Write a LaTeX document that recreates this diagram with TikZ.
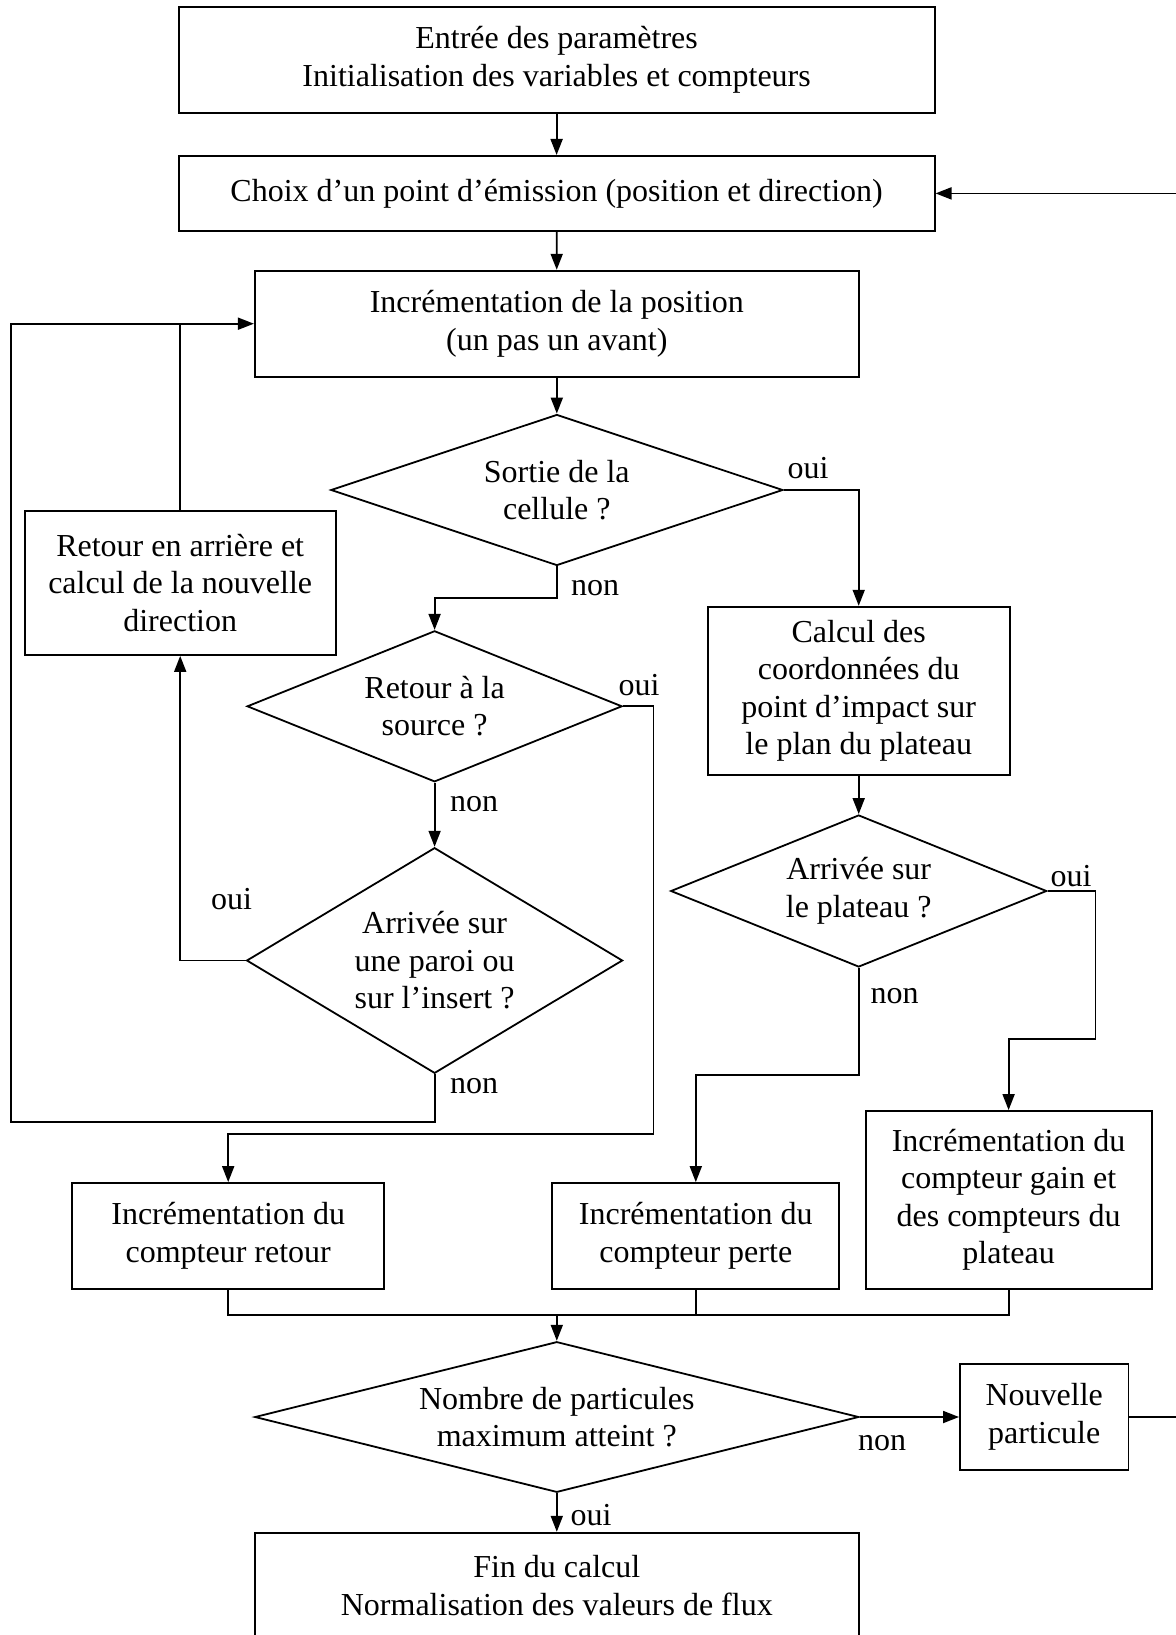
\documentclass[tikz,border=0pt]{standalone}
\usepackage{fontspec}
\setmainfont{Liberation Serif}
\usetikzlibrary{shapes.geometric,arrows.meta}
\begin{document}
\begin{tikzpicture}[x=1pt,y=-1pt,
  every node/.style={font=\fontsize{32}{37.5}\selectfont, align=center, inner sep=0pt},
  box/.style={draw, line width=1.8pt, rectangle},
  dec/.style={draw, line width=1.8pt, diamond},
  lab/.style={anchor=center},
  conn/.style={line width=1.8pt},
  arr/.style={line width=1.8pt, -{Triangle[length=16pt,width=12pt]}}]
\useasboundingbox (0,0) rectangle (1175,1635);
% boxes
\node[box, minimum width=756pt, minimum height=106pt] (b1) at (556.6,59.7)
  {Entrée des paramètres\\Initialisation des variables et compteurs};
\node[box, minimum width=756pt, minimum height=75pt] (b2) at (556.6,193.4)
  {Choix d’un point d’émission (position et direction)};
\node[box, minimum width=604pt, minimum height=106pt] (b3) at (556.8,323.7)
  {Incrémentation de la position\\(un pas un avant)};
\node[dec, aspect=2.99, minimum width=452pt, minimum height=151pt] (d1) at (556.8,490)
  {Sortie de la\\cellule ?};
\node[box, minimum width=311pt, minimum height=144pt] (rb) at (180.2,583)
  {Retour en arrière et\\calcul de la nouvelle\\direction};
\node[box, minimum width=302pt, minimum height=168.6pt] (calc) at (858.7,691)
  {Calcul des\\coordonnées du\\point d’impact sur\\le plan du plateau};
\node[dec, aspect=2.48, minimum width=375pt, minimum height=151pt] (d2) at (434.6,706.3)
  {Retour à la\\source ?};
\node[dec, aspect=1.67, minimum width=376pt, minimum height=225.6pt] (d3) at (434.6,960.5)
  {Arrivée sur\\une paroi ou\\sur l’insert ?};
\node[dec, aspect=2.47, minimum width=376pt, minimum height=152pt] (d4) at (858.7,891)
  {Arrivée sur\\le plateau ?};
\node[box, minimum width=312pt, minimum height=106pt] (cr) at (228.2,1236)
  {Incrémentation du\\compteur retour};
\node[box, minimum width=287pt, minimum height=106pt] (cp) at (695.8,1236)
  {Incrémentation du\\compteur perte};
\node[box, minimum width=286pt, minimum height=178pt] (cg) at (1008.6,1200)
  {Incrémentation du\\compteur gain et\\des compteurs du\\plateau};
\node[dec, aspect=4.01, minimum width=604pt, minimum height=150.6pt] (d5) at (556.8,1417)
  {Nombre de particules\\maximum atteint ?};
\node[box, minimum width=168.5pt, minimum height=106pt] (nv) at (1044.2,1417)
  {Nouvelle\\particule};
\node[box, minimum width=604pt, minimum height=106pt] (fin) at (556.8,1585.7)
  {Fin du calcul\\Normalisation des valeurs de flux};
% helper coordinates
\coordinate (j1) at (653.4,1134.3);
\coordinate (j2) at (11.2,1121.7);
\coordinate (j3) at (1095.5,1039);
\coordinate (j4) at (858.7,1075);
\coordinate (j5) at (556.8,1315);
\coordinate (j6) at (434.6,598.3);
\coordinate (rr) at (1180,0);
% connectors
\draw[arr] (b1) -- (b2);
\draw[arr] (b2) -- (b3);
\draw[arr] (b3) -- (d1);
\draw[arr] (d1.east) -| (calc.north);
\draw[arr] (d1.south) |- (j6) -- (d2.north);
\draw[arr] (d2.east) -| (j1) -| (cr.north);
\draw[arr] (d2) -- (d3);
\draw[arr] (d3.west) -| (rb.south);
\draw[arr] (d3.south) |- (j2) |- (b3.west);
\draw[conn] (rb.north) -- (rb.north |- b3.west);
\draw[arr] (calc) -- (d4);
\draw[arr] (d4.east) -| (j3) -| (cg.north);
\draw[arr] (d4.south) -- (j4) -| (cp.north);
\draw[conn] (cr.south) |- (j5);
\draw[conn] (cp.south) |- (j5);
\draw[conn] (cg.south) |- (j5);
\draw[arr] (j5) -- (d5.north);
\draw[arr] (d5.east) -- (nv.west);
\draw[arr] (nv.east) -- (rr |- nv.east) -- (rr |- b2.east) -- (b2.east);
\draw[arr] (d5) -- (fin);
% labels
\node[lab] at (808,468) {oui};
\node[lab] at (595,588) {non};
\node[lab] at (639,685) {oui};
\node[lab] at (474,804) {non};
\node[lab] at (231.5,899) {oui};
\node[lab] at (474,1086) {non};
\node[lab] at (1071,876) {oui};
\node[lab] at (894.5,996) {non};
\node[lab] at (882,1443) {non};
\node[lab] at (591,1515) {oui};
\end{tikzpicture}
\end{document}
